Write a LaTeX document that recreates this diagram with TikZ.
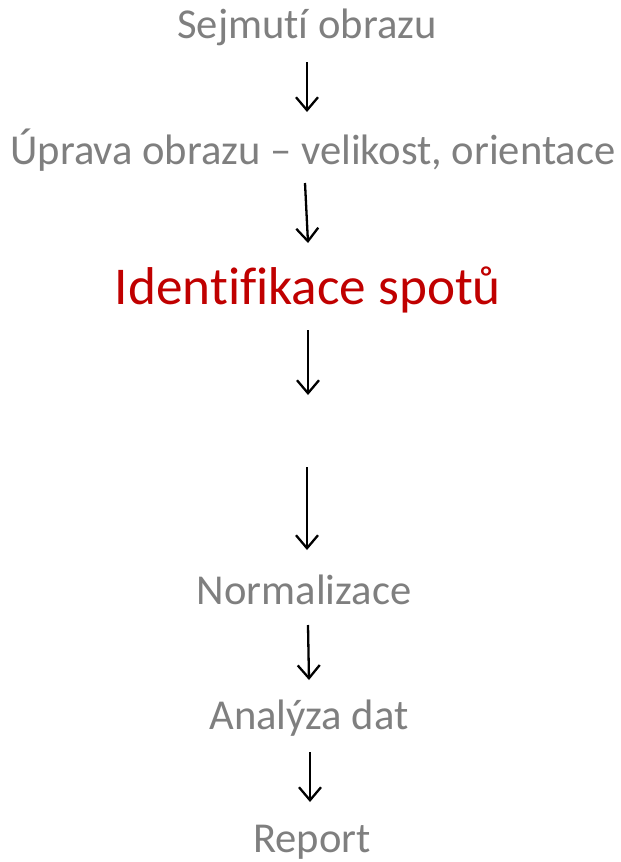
\documentclass[tikz,border=0pt]{standalone}
\usepackage{fontspec}
\setmainfont[Ligatures={NoCommon}]{Carlito}
\usetikzlibrary{arrows.meta}
\definecolor{stepgray}{HTML}{7F7F7F}
\definecolor{stepred}{HTML}{C00000}
\begin{document}
\begin{tikzpicture}[x=1pt, y=-1pt]
%% the whole picture is laid out in pixel units (1pt = 1px)
\tikzstyle{steptext}=[text=stepgray, font=\fontsize{42.6}{46}\selectfont, inner sep=0pt, anchor=center]
\tikzstyle{keytext}=[text=stepred, font=\fontsize{53.2}{58}\selectfont, inner sep=0pt, anchor=center]
\tikzstyle{flow}=[-{Straight Barb[length=13pt, width=22pt, line width=2.3pt]}, line width=2.3pt, black]
\useasboundingbox (0,0) rectangle (621,862);
%% steps %%
\node[steptext] at (307,27) (Sejmuti) {Sejmutí obrazu};
\node[steptext] at (313,150) (Uprava) {Úprava obrazu – velikost, orientace};
\node[keytext] at (308,290) (Identifikace) {Identifikace spotů};
\node[steptext] at (304,590) (Normalizace) {Normalizace};
\node[steptext] at (309,718) (Analyza) {Analýza dat};
\node[steptext] at (312,842) (Report) {Report};
%% arrow end points
\coordinate (a1s) at (307,62);  \coordinate (a1e) at (307,112);
\coordinate (a2s) at (305,183); \coordinate (a2e) at (308,243);
\coordinate (a3s) at (308,330); \coordinate (a3e) at (308,395);
\coordinate (a4s) at (307,467); \coordinate (a4e) at (307,550);
\coordinate (a5s) at (308,625); \coordinate (a5e) at (309,680);
\coordinate (a6s) at (310,752); \coordinate (a6e) at (310,802);
%% arrows %%
\draw[flow] (a1s) -- (a1e);
\draw[flow] (a2s) -- (a2e);
\draw[flow] (a3s) -- (a3e);
\draw[flow] (a4s) -- (a4e);
\draw[flow] (a5s) -- (a5e);
\draw[flow] (a6s) -- (a6e);
\end{tikzpicture}
\end{document}
